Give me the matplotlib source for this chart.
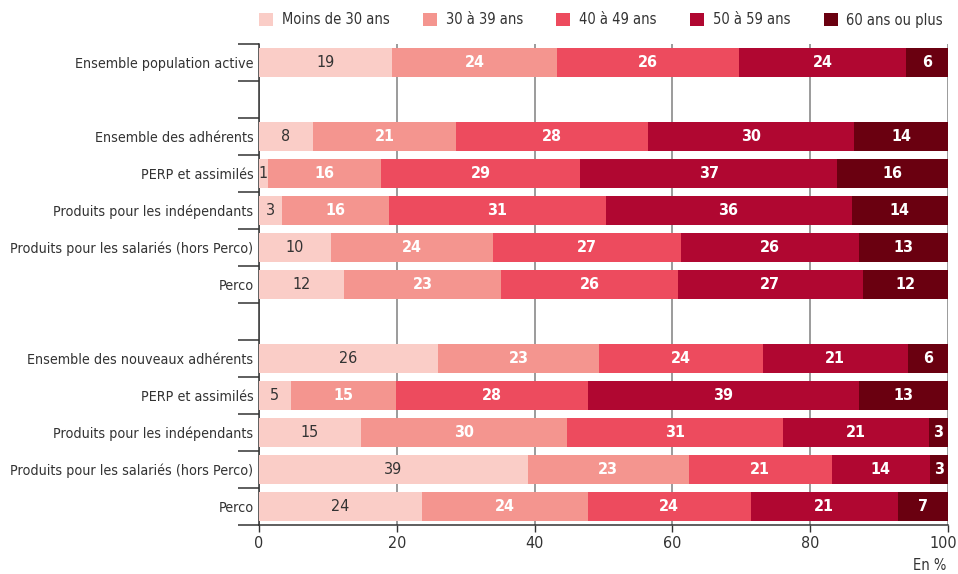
import numpy as np
import matplotlib
matplotlib.use("Agg")
import matplotlib.pyplot as plt
import matplotlib.transforms as mtransforms
from matplotlib.patches import Patch
from matplotlib.ticker import FixedLocator

plt.rcParams['font.family'] = ['DejaVu Sans']
plt.rcParams['font.stretch'] = 'condensed'

categories = [
    "Ensemble population active",
    "",
    "Ensemble des adhérents",
    "PERP et assimilés",
    "Produits pour les indépendants",
    "Produits pour les salariés (hors Perco)",
    "Perco",
    "",
    "Ensemble des nouveaux adhérents",
    "PERP et assimilés",
    "Produits pour les indépendants",
    "Produits pour les salariés (hors Perco)",
    "Perco",
]
age_groups = ["Moins de 30 ans", "30 à 39 ans", "40 à 49 ans", "50 à 59 ans", "60 ans ou plus"]

# shares (%) per age group, one value per row (None = spacer row)
moins_30 = [19.3, None, 7.8, 1.3, 3.3, 10.4, 12.4, None, 26.0, 4.6, 14.8, 39.0, 23.6]
de_30_39 = [24.0, None, 20.8, 16.4, 15.6, 23.6, 22.7, None, 23.4, 15.3, 29.9, 23.4, 24.1]
de_40_49 = [26.4, None, 27.8, 28.9, 31.4, 27.2, 25.7, None, 23.7, 27.8, 31.4, 20.7, 23.7]
de_50_59 = [24.2, None, 30.0, 37.3, 35.7, 25.9, 26.8, None, 21.1, 39.4, 21.1, 14.3, 21.3]
plus_60 = [6.1, None, 13.6, 16.1, 14.0, 12.9, 12.4, None, 5.8, 12.9, 2.8, 2.6, 7.3]

series = [moins_30, de_30_39, de_40_49, de_50_59, plus_60]
colors = ["#facdc7", "#f4958f", "#ed4b5e", "#b00731", "#6a0010"]
text_colors = ["#333333", "white", "white", "white", "white"]
text_weights = ["normal", "bold", "bold", "bold", "bold"]

fig = plt.figure(figsize=(9.58, 5.74), dpi=100)
ax = fig.add_axes([259 / 958, 1 - 525 / 574, (948 - 259) / 958, (525 - 44) / 574])

y = np.arange(len(categories))
left = np.zeros(len(categories))
for vals, col, tcol, tw in zip(series, colors, text_colors, text_weights):
    rows = [i for i, v in enumerate(vals) if v is not None]
    widths = np.array([vals[i] for i in rows])
    ax.barh(y[rows], widths, left=left[rows], height=0.78, color=col, zorder=3)
    for r, w in zip(rows, widths):
        ax.text(left[r] + w / 2, r, f"{round(w)}", ha='center', va='center',
                color=tcol, fontsize=11.5, fontweight=tw, zorder=4)
        left[r] += w

ax.set_xlim(0, 100)
ax.set_ylim(12.5, -0.5)
ax.set_xticks([0, 20, 40, 60, 80, 100])
ax.tick_params(axis='x', length=5, width=1, color='#333333', labelsize=11.5,
               labelcolor='#333333', pad=3)
# keep "100" inside the figure
last = ax.get_xticklabels()[-1]
last.set_ha('right')
last.set_transform(last.get_transform() +
                   mtransforms.ScaledTranslation(9 / 100, 0, fig.dpi_scale_trans))

# y: boundary ticks (major) + labels on minor ticks
ax.yaxis.set_major_locator(FixedLocator(np.arange(-0.5, 13, 1)))
ax.yaxis.set_major_formatter(plt.NullFormatter())
ax.yaxis.set_minor_locator(FixedLocator(y))
ax.set_yticklabels(categories, minor=True)
ax.tick_params(axis='y', which='major', length=15, width=1.1, color='#333333')
ax.tick_params(axis='y', which='minor', length=0, pad=4, labelsize=10.3,
               labelcolor='#333333')

ax.grid(axis='x', color='#808080', linewidth=1.1, zorder=0)
ax.spines['top'].set_visible(False)
ax.spines['right'].set_visible(False)
for s in ['left', 'bottom']:
    ax.spines[s].set_color('#333333')
    ax.spines[s].set_linewidth(1.1)

handles = [Patch(facecolor=c, edgecolor='none') for c in colors]
fig.legend(handles, age_groups, loc='center left', bbox_to_anchor=(246 / 958, 1 - 20 / 574),
           ncol=5, frameon=False, fontsize=10.5, handlelength=0.95, handleheight=0.95,
           handletextpad=0.6, columnspacing=2.3, labelcolor='#333333')

fig.text(946 / 958, 1 / 574, "En %", ha='right', va='bottom', fontsize=10.5, color='#333333')

fig.savefig("out.png", dpi=100)
